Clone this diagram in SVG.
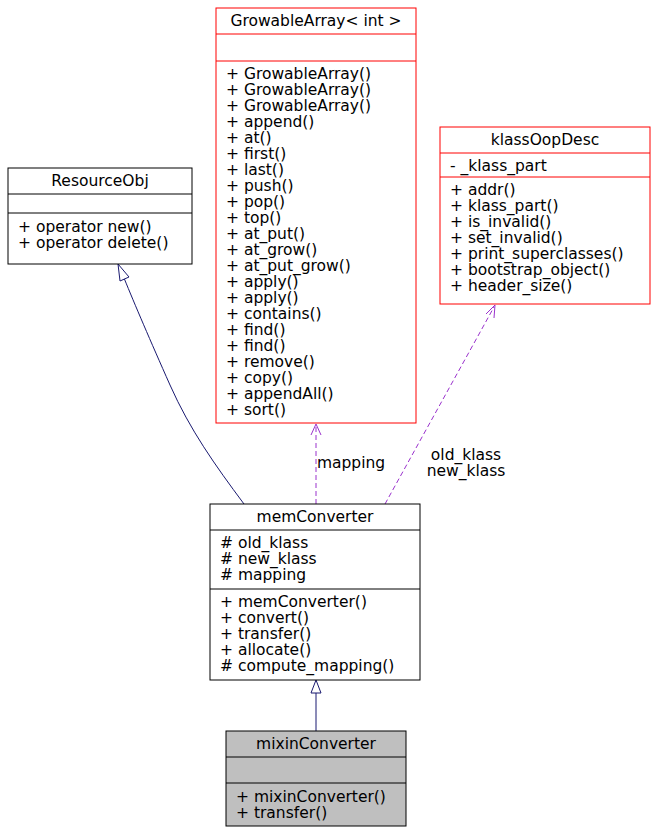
<svg xmlns="http://www.w3.org/2000/svg" width="658" height="834" viewBox="0 0 658 834">
<style>
text{font-family:"DejaVu Sans","Liberation Sans",sans-serif;font-size:15.5px;fill:#000}
.c{text-anchor:middle}
.w{fill:#fff;stroke:#000;stroke-width:1}
.r{fill:#fff;stroke:#ff0000;stroke-width:1}
.g{fill:#bfbfbf;stroke:#000;stroke-width:1}
.ln{stroke:#000;stroke-width:1}
.lr{stroke:#ff0000;stroke-width:1}
.inh{fill:none;stroke:#191970;stroke-width:1}
.use{fill:none;stroke:#9a32cd;stroke-width:1;stroke-dasharray:5,3}
</style>
<rect width="658" height="834" fill="#fff"/>
<g id="connectors">
<path class="inh" d="M244,504 C215,465 190,430 170,385 C150,340 135,305 124,278"/>
<polygon points="118,264 129,277 120,281" fill="#fff" stroke="#191970"/>
<line class="inh" x1="316" y1="731" x2="316" y2="693"/>
<polygon points="316,680 311,693 321,693" fill="#fff" stroke="#191970"/>
<line class="use" x1="316" y1="504" x2="316" y2="425"/>
<polyline points="311,435 316,424 321,435" fill="none" stroke="#9a32cd"/>
<text class="c" x="351" y="468">mapping</text>
<line class="use" x1="385" y1="504" x2="494" y2="307"/>
<polyline points="486,314 495,305 494,318" fill="none" stroke="#9a32cd"/>
<text class="c" x="466" y="460">old_klass</text>
<text class="c" x="466" y="476">new_klass</text>
</g>
<g id="ResourceObj">
<rect class="w" x="8" y="168" width="184" height="96"/>
<line class="ln" x1="8" y1="194" x2="192" y2="194"/>
<line class="ln" x1="8" y1="213" x2="192" y2="213"/>
<text class="c" x="100" y="186">ResourceObj</text>
<text x="18" y="232">+ operator new()</text>
<text x="18" y="248">+ operator delete()</text>
</g>
<g id="GrowableArray">
<rect class="r" x="216" y="8" width="200" height="415"/>
<line class="lr" x1="216" y1="34" x2="416" y2="34"/>
<line class="lr" x1="216" y1="61" x2="416" y2="61"/>
<text class="c" x="316" y="26">GrowableArray&lt; int &gt;</text>
<text x="226" y="79">+ GrowableArray()</text>
<text x="226" y="95">+ GrowableArray()</text>
<text x="226" y="111">+ GrowableArray()</text>
<text x="226" y="127">+ append()</text>
<text x="226" y="143">+ at()</text>
<text x="226" y="159">+ first()</text>
<text x="226" y="175">+ last()</text>
<text x="226" y="191">+ push()</text>
<text x="226" y="207">+ pop()</text>
<text x="226" y="223">+ top()</text>
<text x="226" y="239">+ at_put()</text>
<text x="226" y="255">+ at_grow()</text>
<text x="226" y="271">+ at_put_grow()</text>
<text x="226" y="287">+ apply()</text>
<text x="226" y="303">+ apply()</text>
<text x="226" y="319">+ contains()</text>
<text x="226" y="335">+ find()</text>
<text x="226" y="351">+ find()</text>
<text x="226" y="367">+ remove()</text>
<text x="226" y="383">+ copy()</text>
<text x="226" y="399">+ appendAll()</text>
<text x="226" y="415">+ sort()</text>
</g>
<g id="klassOopDesc">
<rect class="r" x="440" y="127" width="210" height="177"/>
<line class="lr" x1="440" y1="153" x2="650" y2="153"/>
<line class="lr" x1="440" y1="177" x2="650" y2="177"/>
<text class="c" x="545" y="145">klassOopDesc</text>
<text x="450" y="171">- _klass_part</text>
<text x="450" y="195">+ addr()</text>
<text x="450" y="211">+ klass_part()</text>
<text x="450" y="227">+ is_invalid()</text>
<text x="450" y="243">+ set_invalid()</text>
<text x="450" y="259">+ print_superclasses()</text>
<text x="450" y="275">+ bootstrap_object()</text>
<text x="450" y="291">+ header_size()</text>
</g>
<g id="memConverter">
<rect class="w" x="210" y="504" width="210" height="176"/>
<line class="ln" x1="210" y1="530" x2="420" y2="530"/>
<line class="ln" x1="210" y1="589" x2="420" y2="589"/>
<text class="c" x="315" y="522">memConverter</text>
<text x="220" y="548"># old_klass</text>
<text x="220" y="564"># new_klass</text>
<text x="220" y="580"># mapping</text>
<text x="220" y="607">+ memConverter()</text>
<text x="220" y="623">+ convert()</text>
<text x="220" y="639">+ transfer()</text>
<text x="220" y="655">+ allocate()</text>
<text x="220" y="671"># compute_mapping()</text>
</g>
<g id="mixinConverter">
<rect class="g" x="226" y="731" width="180" height="95"/>
<line class="ln" x1="226" y1="757" x2="406" y2="757"/>
<line class="ln" x1="226" y1="783" x2="406" y2="783"/>
<text class="c" x="316" y="749">mixinConverter</text>
<text x="236" y="802">+ mixinConverter()</text>
<text x="236" y="818">+ transfer()</text>
</g>
</svg>
